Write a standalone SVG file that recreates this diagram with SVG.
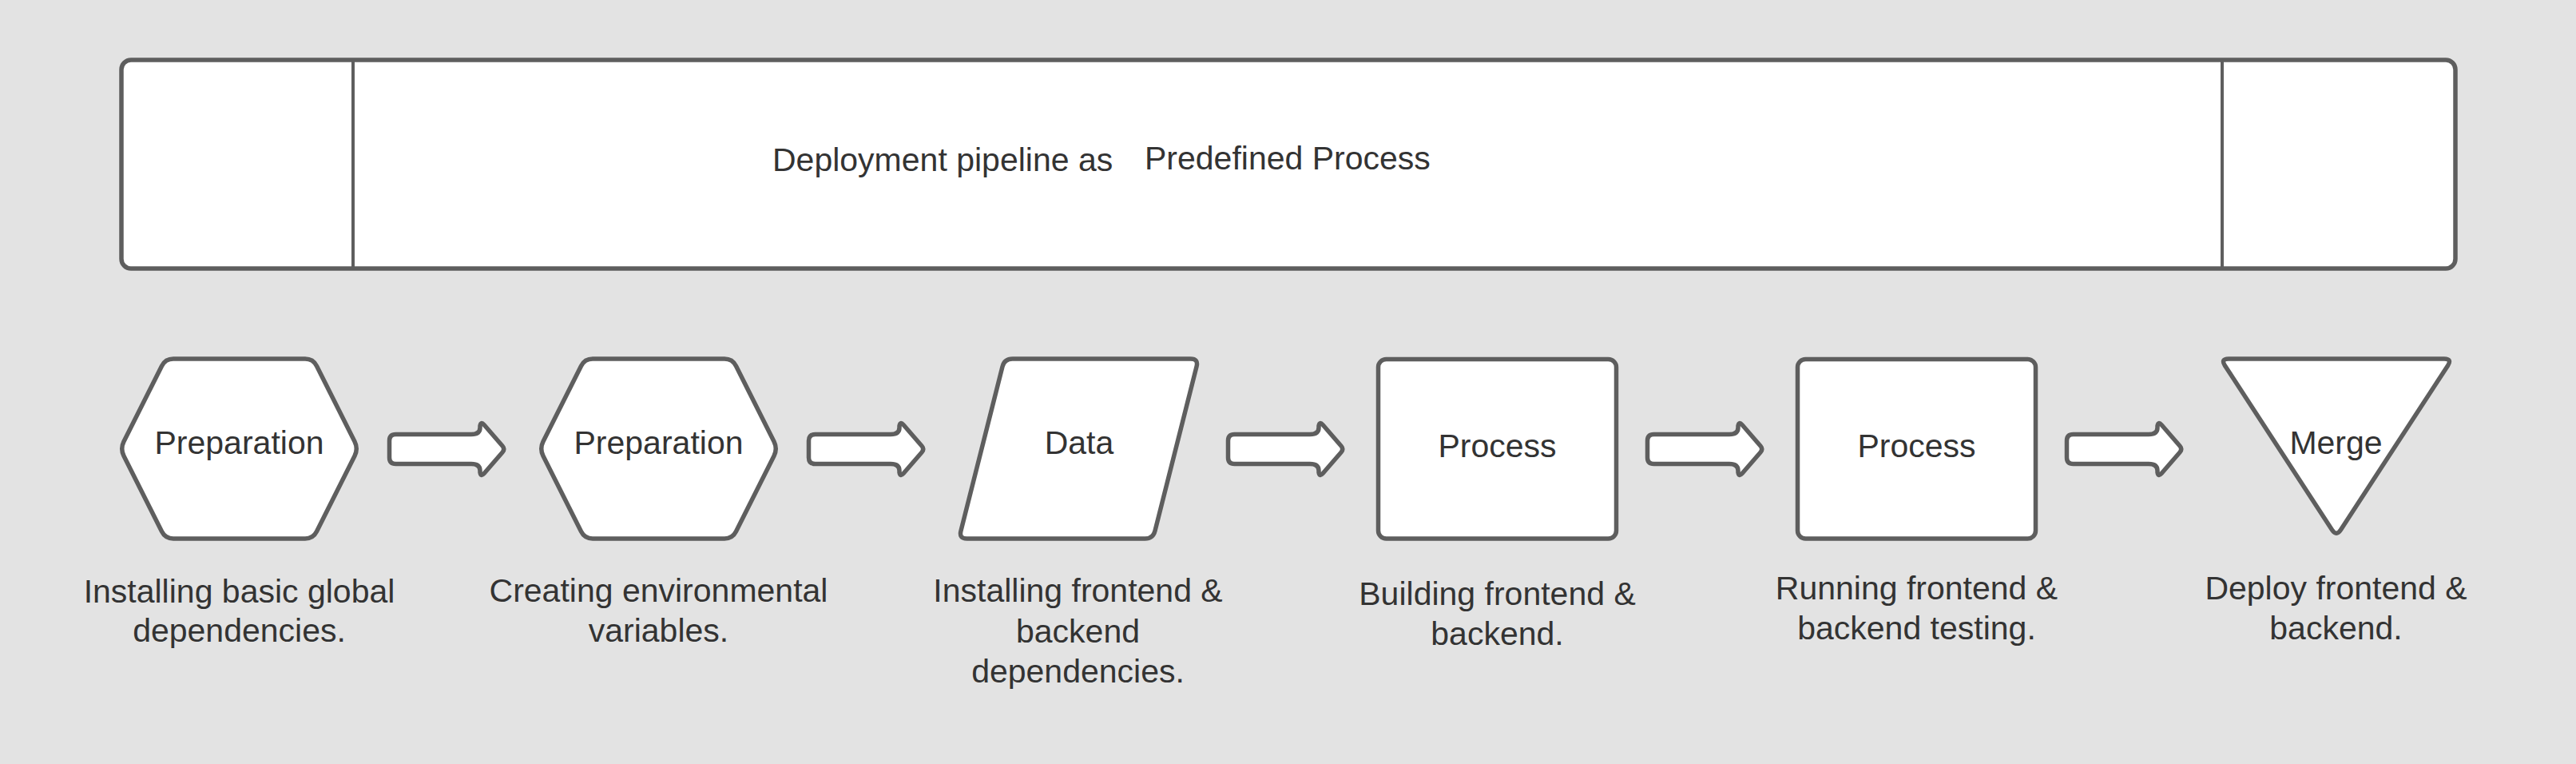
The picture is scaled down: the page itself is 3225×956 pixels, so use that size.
<svg xmlns="http://www.w3.org/2000/svg" xmlns:xlink="http://www.w3.org/1999/xlink" width="3225" height="956" viewBox="0 0 3225 956">
<style>
.shape{fill:#ffffff;stroke:#5e5e5e;stroke-width:5.5;stroke-linejoin:round}
.div{stroke:#5e5e5e;stroke-width:4;fill:none}
text{font-family:"Liberation Sans",Arial,sans-serif;font-size:41px;fill:#333333}
.c{text-anchor:middle}
</style>
<defs>
<path id="hex" d="M -82.5,-112.5 L 82.5,-112.5 Q 92.5,-112.5 96.99,-103.56 L 144.51,-8.94 Q 149,0 144.51,8.94 L 96.99,103.56 Q 92.5,112.5 82.5,112.5 L -82.5,112.5 Q -92.5,112.5 -96.99,103.56 L -144.51,8.94 Q -149,0 -144.51,-8.94 L -96.99,-103.56 Q -92.5,-112.5 -82.5,-112.5 Z"/>
<path id="arrow" d="M -64.5,-18.5 L 30,-18.5 Q 41,-18.5 41,-27 L 41,-29 Q 42,-35 46,-30.5 L 69,-4 Q 72.5,0 69,4 L 46,30.5 Q 42,35 41,29 L 41,27 Q 41,18.5 30,18.5 L -64.5,18.5 Q -72.5,18.5 -72.5,10.5 L -72.5,-10.5 Q -72.5,-18.5 -64.5,-18.5 Z"/>
</defs>
<rect x="0" y="0" width="3225" height="956" fill="#e3e3e3"/>

<g id="pipeline">
<rect class="shape" x="152" y="75" width="2922" height="261" rx="12" ry="12"/>
<line class="div" x1="442" y1="76" x2="442" y2="335"/>
<line class="div" x1="2782" y1="76" x2="2782" y2="335"/>
<text x="967" y="214">Deployment pipeline as</text>
<text x="1433" y="212">Predefined Process</text>
</g>

<g id="connectors">
<use class="shape" href="#arrow" xlink:href="#arrow" x="560" y="562"/>
<use class="shape" href="#arrow" xlink:href="#arrow" x="1085" y="562"/>
<use class="shape" href="#arrow" xlink:href="#arrow" x="1610" y="562"/>
<use class="shape" href="#arrow" xlink:href="#arrow" x="2135" y="562"/>
<use class="shape" href="#arrow" xlink:href="#arrow" x="2660" y="562"/>
</g>

<g id="node1">
<use class="shape" href="#hex" xlink:href="#hex" x="299.5" y="561.5"/>
<text class="c" x="299.5" y="568">Preparation</text>
<text class="c" x="299.5" y="754">Installing basic global</text>
<text class="c" x="299.5" y="803">dependencies.</text>
</g>

<g id="node2">
<use class="shape" href="#hex" xlink:href="#hex" x="824.5" y="561.5"/>
<text class="c" x="824.5" y="568">Preparation</text>
<text class="c" x="824.5" y="753">Creating environmental</text>
<text class="c" x="824.5" y="803">variables.</text>
</g>

<g id="node3">
<path class="shape" transform="translate(1350.5,561.5)" d="M -83,-112.5 L 140,-112.5 Q 150,-112.5 147.54,-102.81 L 95.46,102.81 Q 93,112.5 83,112.5 L -140,112.5 Q -150,112.5 -147.54,102.81 L -95.46,-102.81 Q -93,-112.5 -83,-112.5 Z"/>
<text class="c" x="1351" y="568">Data</text>
<text class="c" x="1349.5" y="753">Installing frontend &amp;</text>
<text class="c" x="1349.5" y="804">backend</text>
<text class="c" x="1349.5" y="854">dependencies.</text>
</g>

<g id="node4">
<rect class="shape" x="1725.5" y="449.5" width="298" height="224.5" rx="10" ry="10"/>
<text class="c" x="1874.5" y="572">Process</text>
<text class="c" x="1874.5" y="757">Building frontend &amp;</text>
<text class="c" x="1874.5" y="807">backend.</text>
</g>

<g id="node5">
<rect class="shape" x="2250.5" y="449.5" width="298" height="224.5" rx="10" ry="10"/>
<text class="c" x="2399.5" y="572">Process</text>
<text class="c" x="2399.5" y="750">Running frontend &amp;</text>
<text class="c" x="2399.5" y="800">backend testing.</text>
</g>

<g id="node6">
<path class="shape" transform="translate(2925,561.5)" d="M -135,-112.5 L 135,-112.5 Q 145,-112.5 139.54,-104.12 L 5.46,101.62 Q 0,110 -5.46,101.62 L -139.54,-104.12 Q -145,-112.5 -135,-112.5 Z"/>
<text class="c" x="2924.5" y="568">Merge</text>
<text class="c" x="2924.5" y="750">Deploy frontend &amp;</text>
<text class="c" x="2924.5" y="800">backend.</text>
</g>
</svg>
